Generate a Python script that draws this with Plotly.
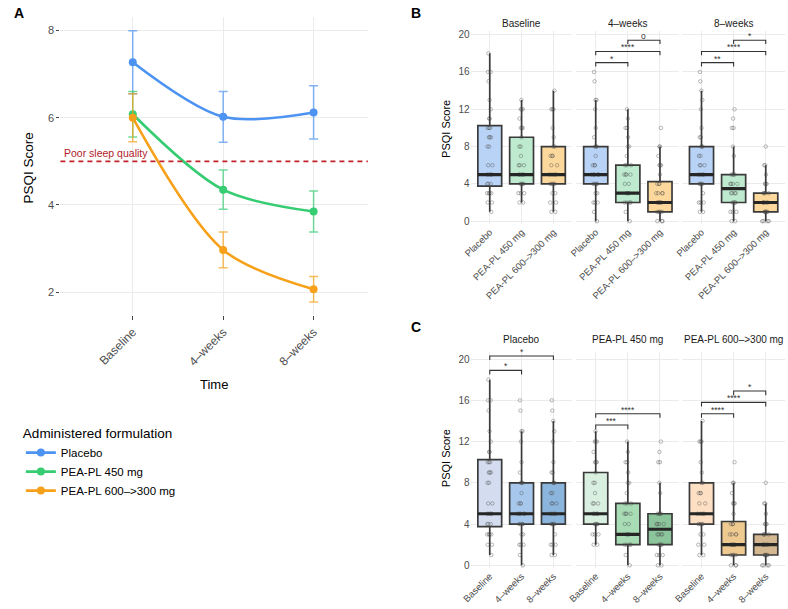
import plotly.graph_objects as go

W, H = 788, 609
FONT = "Liberation Sans, Arial, Helvetica, sans-serif"

# ---------------- data ----------------
times = ["Baseline", "4–weeks", "8–weeks"]
groups = ["Placebo", "PEA-PL 450 mg", "PEA-PL 600–>300 mg"]
group_colors = ["#4C93F2", "#35CC72", "#F7A11A"]
group_err_colors = ["rgba(76,147,242,0.7)", "rgba(53,204,114,0.7)", "rgba(247,161,26,0.7)"]

# Panel A: mean +/- SE
mean_placebo = [7.27, 6.02, 6.12]
se_placebo = [0.72, 0.58, 0.61]
mean_450 = [6.08, 4.35, 3.85]
se_450 = [0.52, 0.45, 0.47]
mean_600 = [6.00, 2.97, 2.07]
se_600 = [0.55, 0.41, 0.29]

# Box statistics per group, [Baseline, 4-weeks, 8-weeks]
q1_placebo = [3.75, 4, 4]
med_placebo = [5, 5, 5]
q3_placebo = [10.25, 8, 8]
lo_placebo = [1, 0, 1]
hi_placebo = [18, 13, 14]

q1_450 = [4, 2, 2]
med_450 = [5, 3, 3.5]
q3_450 = [9, 6, 5]
lo_450 = [2, 0, 0]
hi_450 = [13, 12, 8]

q1_600 = [4, 1, 1]
med_600 = [5, 2, 2]
q3_600 = [8, 4.25, 3]
lo_600 = [1, 0, 0]
hi_600 = [14, 8, 6]

# Individual scores
placebo_bl = [1, 2, 2, 3, 3, 3, 3, 4, 4, 4, 5, 5, 5, 5, 6, 6, 8, 8, 9, 9, 9, 10, 10, 10, 11, 11, 12, 13, 15, 16, 16, 18]
placebo_4w = [0, 1, 2, 2, 2, 3, 3, 4, 4, 4, 4, 5, 5, 5, 5, 5, 6, 6, 6, 7, 8, 8, 8, 9, 10, 12, 13, 13, 15, 16]
placebo_8w = [1, 1, 2, 2, 2, 3, 4, 4, 4, 4, 5, 5, 5, 5, 6, 6, 6, 7, 7, 8, 8, 8, 9, 9, 10, 12, 13, 14, 15, 16]
pea450_bl = [2, 2, 3, 3, 3, 4, 4, 4, 4, 5, 5, 5, 5, 6, 6, 6, 7, 8, 8, 9, 10, 10, 10, 11, 12, 12, 12, 13]
pea450_4w = [0, 1, 2, 2, 2, 2, 3, 3, 3, 4, 4, 5, 5, 5, 5, 6, 6, 6, 7, 8, 8, 9, 10, 10, 11, 12]
pea450_8w = [0, 0, 1, 1, 1, 2, 2, 2, 2, 3, 3, 3, 3, 4, 4, 4, 4, 5, 5, 5, 5, 7, 8, 10, 10, 11, 12]
pea600_bl = [1, 1, 2, 2, 3, 3, 4, 4, 4, 4, 5, 5, 5, 5, 6, 6, 7, 7, 7, 8, 8, 9, 10, 12, 12, 12, 14]
pea600_4w = [0, 0, 0, 1, 1, 1, 1, 2, 2, 2, 2, 2, 3, 3, 3, 3, 4, 4, 4, 5, 6, 6, 6, 7, 8, 8, 10]
pea600_8w = [0, 0, 0, 0, 1, 1, 1, 1, 1, 2, 2, 2, 2, 2, 3, 3, 3, 3, 4, 4, 4, 5, 6, 6, 8]

# Fill colours
b_fill = ["#B9D3F6", "#BEEBCF", "#FCD89C"]
c_fill_placebo = ["#D3DDEF", "#A7C8EC", "#8BB5DC"]
c_fill_450 = ["#D9EFE0", "#A8DCB5", "#8CC49C"]
c_fill_600 = ["#FDE0C4", "#EEC990", "#D4B891"]

# Significance brackets: (panel, from, to, y, label)
b_comparisons = [(1, 0, 1, 17.0, "*"), (1, 0, 2, 18.2, "****"), (1, 1, 2, 19.4, "o"),
                 (2, 0, 1, 17.0, "**"), (2, 0, 2, 18.2, "****"), (2, 1, 2, 19.4, "*")]
c_comparisons = [(0, 0, 1, 18.9, "*"), (0, 0, 2, 20.3, "*"),
                 (1, 0, 1, 13.6, "***"), (1, 0, 2, 14.7, "****"),
                 (2, 0, 1, 14.7, "****"), (2, 0, 2, 15.8, "****"), (2, 1, 2, 16.9, "*")]

# ---------------- assembly ----------------
means = [mean_placebo, mean_450, mean_600]
ses = [se_placebo, se_450, se_600]
stats = [
    (q1_placebo, med_placebo, q3_placebo, lo_placebo, hi_placebo),
    (q1_450, med_450, q3_450, lo_450, hi_450),
    (q1_600, med_600, q3_600, lo_600, hi_600),
]
points = [
    [placebo_bl, placebo_4w, placebo_8w],
    [pea450_bl, pea450_4w, pea450_8w],
    [pea600_bl, pea600_4w, pea600_8w],
]
c_fills = [c_fill_placebo, c_fill_450, c_fill_600]


def px(x):
    return x / W


def py(y):
    return 1 - y / H


fig = go.Figure()

# Panel A
for g in range(3):
    fig.add_trace(go.Scatter(
        x=[0, 1, 2], y=means[g], name=groups[g], mode="lines+markers",
        line=dict(color=group_colors[g], width=2.6, shape="spline", smoothing=0.9),
        marker=dict(color=group_colors[g], size=8),
        error_y=dict(type="data", array=ses[g], color=group_err_colors[g], thickness=1.5, width=4.5),
        xaxis="x", yaxis="y", hoverinfo="skip",
    ))

HALF = 0.375


def add_box(ax, pos, g, t, fill):
    q1, med, q3, lo, hi = stats[g]
    xa, ya = "x%d" % ax, "y%d" % ax
    fig.add_trace(go.Box(
        x=[pos], q1=[q1[t]], median=[med[t]], q3=[q3[t]], lowerfence=[lo[t]], upperfence=[hi[t]],
        width=0.75, whiskerwidth=0, fillcolor=fill, line=dict(color="#3A3A3A", width=1.7),
        boxpoints=False, xaxis=xa, yaxis=ya, showlegend=False, hoverinfo="skip",
    ))
    pts = points[g][t]
    fig.add_trace(go.Box(
        x=[pos] * len(pts), y=pts, boxpoints="all", jitter=0.35, pointpos=0, width=0.75,
        fillcolor="rgba(0,0,0,0)", line=dict(color="rgba(0,0,0,0)", width=0),
        marker=dict(symbol="circle-open", size=3.5, color="rgba(70,70,70,0.55)", line=dict(width=0.7)),
        xaxis=xa, yaxis=ya, showlegend=False, hoverinfo="skip",
    ))
    fig.add_trace(go.Scatter(
        x=[pos - HALF, pos + HALF], y=[med[t], med[t]], mode="lines",
        line=dict(color="#262626", width=3.2), xaxis=xa, yaxis=ya,
        showlegend=False, hoverinfo="skip",
    ))


# Panel B (by time)
for t in range(3):
    for g in range(3):
        add_box(2 + t, g, g, t, b_fill[g])
# Panel C (by group)
for g in range(3):
    for t in range(3):
        add_box(5 + g, t, g, t, c_fills[g][t])

shapes = []
annotations = []
TIP = 0.4


def add_bracket(ax, a, b, y, label):
    shapes.append(dict(
        type="path", xref="x%d" % ax, yref="y%d" % ax,
        path="M %f,%f L %f,%f L %f,%f L %f,%f" % (a, y - TIP, a, y, b, y, b, y - TIP),
        line=dict(color="#333333", width=1.1),
    ))
    annotations.append(dict(
        x=(a + b) / 2, y=y, xref="x%d" % ax, yref="y%d" % ax, text=label, showarrow=False,
        yanchor="bottom", yshift=-3, font=dict(family=FONT, size=8.5, color="#333333"),
    ))


for (p, a, b, y, lab) in b_comparisons:
    add_bracket(2 + p, a, b, y, lab)
for (p, a, b, y, lab) in c_comparisons:
    add_bracket(5 + p, a, b, y, lab)

# threshold line in panel A
shapes.append(dict(type="line", xref="x domain", yref="y", x0=0, x1=1, y0=5, y1=5,
                   line=dict(color="#C0232A", width=1.7, dash="5px,4px")))
annotations.append(dict(x=0.005, y=5, xref="x domain", yref="y", text="Poor sleep quality",
                        showarrow=False, xanchor="left", yanchor="bottom", yshift=0,
                        font=dict(family=FONT, size=10.5, color="#B22228")))


def text_ann(x, y, text, size, color="#000000", bold=False, angle=0):
    annotations.append(dict(
        x=px(x), y=py(y), xref="paper", yref="paper", text=("<b>%s</b>" % text) if bold else text,
        showarrow=False, xanchor="center", yanchor="middle", textangle=angle,
        font=dict(family=FONT, size=size, color=color),
    ))


text_ann(10, 11, "A", 14, bold=True)
text_ann(412, 11, "B", 14, bold=True)
text_ann(412, 328, "C", 14, bold=True)
text_ann(20, 167, "PSQI Score", 13.5, angle=-90)
text_ann(207, 386, "Time", 13)
text_ann(442, 128, "PSQI Score", 11, angle=-90)
text_ann(442, 460, "PSQI Score", 11, angle=-90)

panel_x = [(467, 570), (574, 678), (681, 785)]
for i, (a, b) in enumerate(panel_x):
    text_ann((a + b) / 2, 22, times[i], 10, color="#1A1A1A")
    text_ann((a + b) / 2, 340, groups[i], 10, color="#1A1A1A")

GRID = "#EBEBEB"
layout = dict(
    width=W, height=H, margin=dict(l=0, r=0, t=0, b=0),
    paper_bgcolor="white", plot_bgcolor="white",
    font=dict(family=FONT, color="#000000"),
    shapes=shapes, annotations=annotations, boxmode="overlay",
    legend=dict(
        x=px(12), y=py(422), xanchor="left", yanchor="top",
        title=dict(text="Administered formulation", font=dict(family=FONT, size=13.5, color="#000000")),
        font=dict(family=FONT, size=11.5, color="#000000"), tracegroupgap=0, itemwidth=30,
        bgcolor="rgba(0,0,0,0)",
    ),
    xaxis=dict(domain=[px(52), px(363)], range=[-0.8, 2.6], tickvals=[0, 1, 2], ticktext=times,
               tickangle=-45, showgrid=True, gridcolor=GRID, zeroline=False, showline=False,
               ticks="outside", ticklen=4, tickcolor="#444444", tickwidth=1,
               tickfont=dict(family=FONT, size=12, color="#4D4D4D"), anchor="y"),
    yaxis=dict(domain=[py(316), py(15)], range=[1.47, 8.31], tickvals=[2, 4, 6, 8],
               showgrid=True, gridcolor=GRID, zeroline=False, showline=False,
               ticks="outside", ticklen=3, tickcolor="#444444", tickwidth=1,
               tickfont=dict(family=FONT, size=11, color="#4D4D4D"), anchor="x"),
)

for i, (a, b) in enumerate(panel_x):
    for row, (top, bot, rng, labels) in enumerate([
        (29.2, 223.8, [-0.3, 20.4], groups),
        (352.7, 570.6, [-0.25, 20.7], times),
    ]):
        ax = 2 + i + 3 * row
        layout["xaxis%d" % ax] = dict(
            domain=[px(a), px(b)], range=[-0.6, 2.6], tickvals=[0, 1, 2], ticktext=labels,
            tickangle=-45, showgrid=True, gridcolor=GRID, zeroline=False, showline=False,
            ticks="", tickfont=dict(family=FONT, size=9.5, color="#4D4D4D"), anchor="y%d" % ax,
        )
        layout["yaxis%d" % ax] = dict(
            domain=[py(bot), py(top)], range=rng, tickvals=[0, 4, 8, 12, 16, 20],
            showgrid=True, gridcolor=GRID, zeroline=False, showline=False, ticks="",
            showticklabels=(i == 0), tickfont=dict(family=FONT, size=10, color="#4D4D4D"),
            anchor="x%d" % ax,
        )

fig.update_layout(**layout)
fig.write_html("out.html")
